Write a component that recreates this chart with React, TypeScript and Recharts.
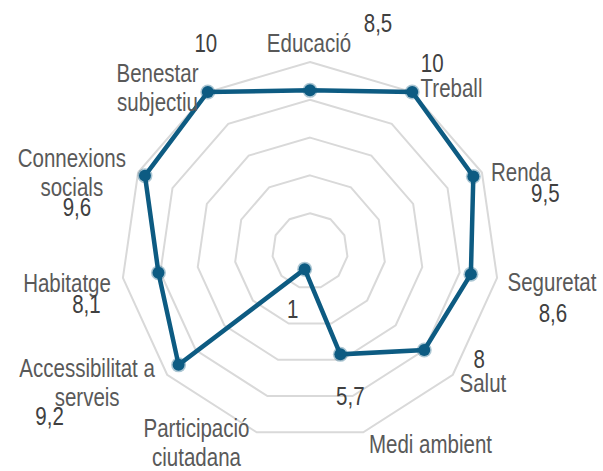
import React from 'react';
import { RadarChart, Radar, PolarGrid, PolarAngleAxis, PolarRadiusAxis } from 'recharts';

const categories = [
  'Educació',
  'Treball',
  'Renda',
  'Seguretat',
  'Salut',
  'Medi ambient',
  'Participació ciutadana',
  'Accessibilitat a serveis',
  'Habitatge',
  'Connexions socials',
  'Benestar subjectiu',
];
const values = [8.5, 10, 9.5, 8.6, 8, 5.7, 1, 9.2, 8.1, 9.6, 10];
const valueLabels = ['8,5', '10', '9,5', '8,6', '8', '5,7', '1', '9,2', '8,1', '9,6', '10'];
const radiusTicks = [0, 2, 4, 6, 8, 10];

const data = categories.map((c, i) => ({ category: c, value: values[i], label: valueLabels[i] }));

// styling: words on first line of wrapped category labels
const firstLineWords: Record<number, number> = { 6: 1, 7: 2, 9: 1, 10: 1 };
// styling: offsets of category labels from their tick anchor
const catOffsets: [number, number][] = [
  [-1, -2], [35, 12], [32, 12], [47, 12], [24, 12], [65, 13],
  [-58, -3], [-74, -3], [-48, 13], [-59, -2], [-46, -3],
];
// styling: offsets of value labels from their point
const valOffsets: [number, number][] = [
  [68, -58], [20, -20], [72, 26], [82, 48], [55, 18], [10, 51],
  [-12, 49], [-129, 60], [-72, 40], [-68, 40], [-2, -40],
];

const FONT = "'Liberation Sans', Arial, sans-serif";
const NARROW = 0.82;
const LINE = '#0d5b82';

const CategoryTick = (props: any) => {
  const { x, y, index, payload } = props;
  const text: string = payload.value;
  const [dx, dy] = catOffsets[index] || [0, 0];
  const words = text.split(' ');
  const n = firstLineWords[index];
  const lines = n ? [words.slice(0, n).join(' '), words.slice(n).join(' ')] : [text];
  return (
    <g transform={`translate(${x + dx},${y + dy}) scale(${NARROW},1)`}>
      <text x={0} y={0} textAnchor="middle" fill="#595959" fontSize={25} fontFamily={FONT}>
        {lines.map((l, i) => (
          <tspan key={i} x={0} dy={i === 0 ? 0 : 29}>
            {l}
          </tspan>
        ))}
      </text>
    </g>
  );
};

const DotWithLabel = (props: any) => {
  const { cx, cy, index, payload } = props;
  const item = payload && payload.payload ? payload.payload : payload;
  const [dx, dy] = valOffsets[index] || [0, 0];
  return (
    <g key={`dot-${index}`}>
      <circle cx={cx} cy={cy} r={7.5} fill={LINE} opacity={0.35} />
      <circle cx={cx} cy={cy} r={6} fill={LINE} />
      <g transform={`translate(${cx + dx},${cy + dy}) scale(${NARROW},1)`}>
        <text x={0} y={0} textAnchor="middle" fill="#404040" fontSize={25} fontFamily={FONT}>
          {item.label}
        </text>
      </g>
    </g>
  );
};

export default function App() {
  return (
    <div style={{ position: 'absolute', left: 0, top: 0, width: 603, height: 471, background: '#fff' }}>
      <RadarChart
        width={603}
        height={471}
        cx={310}
        cy={251}
        outerRadius={189}
        data={data}
        margin={{ top: 0, right: 0, bottom: 0, left: 0 }}
      >
        <PolarGrid gridType="polygon" radialLines={false} stroke="#d9d9d9" strokeWidth={2} />
        <PolarRadiusAxis
          domain={[0, 10]}
          ticks={radiusTicks}
          tickCount={6}
          tick={false}
          axisLine={false}
        />
        <PolarAngleAxis dataKey="category" tick={<CategoryTick />} tickLine={false} axisLine={false} />
        <Radar
          dataKey="value"
          stroke={LINE}
          strokeWidth={4.5}
          fill="none"
          fillOpacity={0}
          dot={<DotWithLabel />}
          isAnimationActive={false}
        />
      </RadarChart>
    </div>
  );
}
